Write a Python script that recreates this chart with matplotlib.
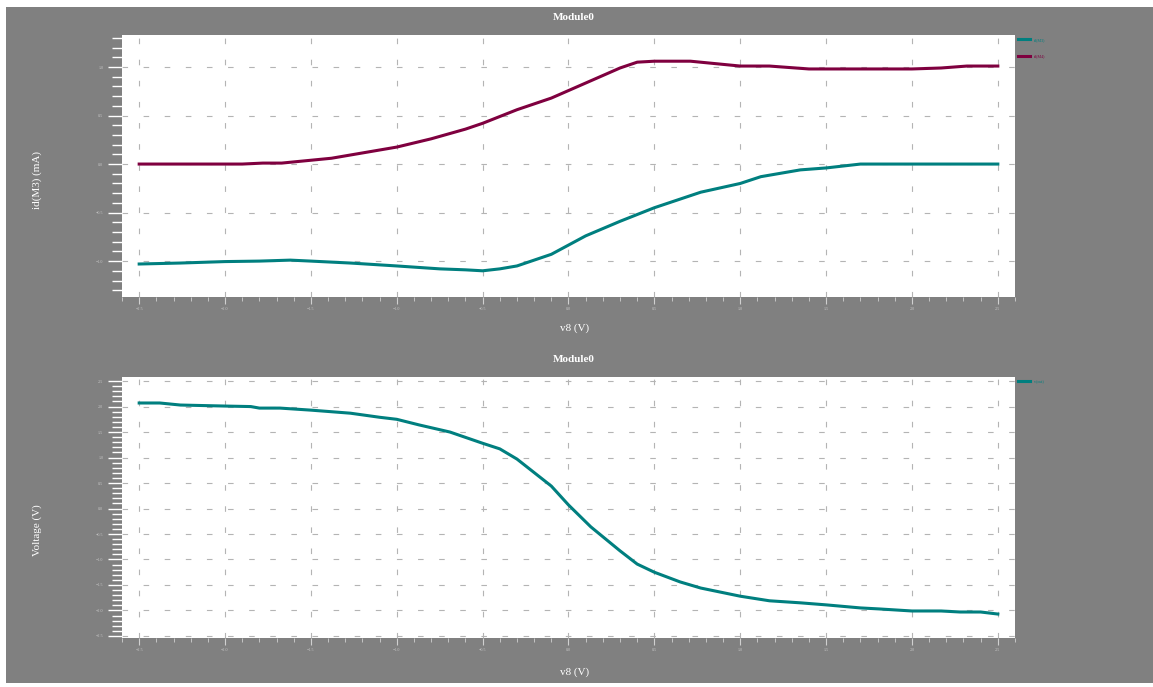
import matplotlib
matplotlib.use('Agg')
import matplotlib.pyplot as plt
import numpy as np

plt.rcParams['font.family'] = ['Liberation Serif', 'DejaVu Serif']

# sweep of v8 (V)
v8_top = [-2.5, -2.26, -2.0, -1.8, -1.62, -1.5, -1.27, -1.0, -0.75, -0.6, -0.5, -0.4, -0.3, -0.1, 0.1, 0.3, 0.5, 0.77, 1.0, 1.12, 1.35, 1.5, 1.7, 2.5]
id_m3 = [-1.03, -1.02, -1.005, -1.0, -0.99, -1.0, -1.02, -1.05, -1.08, -1.09, -1.10, -1.08, -1.05, -0.93, -0.74, -0.59, -0.45, -0.29, -0.20, -0.13, -0.06, -0.04, 0.0, 0.0]

v8_m4 = [-2.5, -1.9, -1.78, -1.67, -1.38, -1.0, -0.8, -0.6, -0.5, -0.3, -0.1, 0.1, 0.3, 0.4, 0.5, 0.71, 1.0, 1.17, 1.4, 2.0, 2.17, 2.32, 2.5]
id_m4 = [0.0, 0.0, 0.01, 0.01, 0.06, 0.175, 0.26, 0.36, 0.42, 0.56, 0.68, 0.835, 0.99, 1.05, 1.06, 1.06, 1.01, 1.01, 0.98, 0.98, 0.99, 1.01, 1.01]

v8_bot = [-2.5, -2.38, -2.26, -2.0, -1.85, -1.8, -1.68, -1.5, -1.27, -1.1, -1.0, -0.87, -0.69, -0.5, -0.4, -0.3, -0.1, 0.0, 0.13, 0.3, 0.4, 0.5, 0.65, 0.77, 1.0, 1.17, 1.35, 1.5, 1.7, 1.81, 2.0, 2.17, 2.28, 2.4, 2.5]
v_out = [2.07, 2.07, 2.03, 2.01, 2.0, 1.97, 1.97, 1.93, 1.87, 1.79, 1.75, 1.64, 1.5, 1.28, 1.17, 0.97, 0.44, 0.07, -0.36, -0.83, -1.09, -1.25, -1.44, -1.56, -1.72, -1.81, -1.85, -1.89, -1.95, -1.97, -2.01, -2.01, -2.03, -2.03, -2.07]

teal = '#007f7f'
purple = '#7f003f'
bg = '#808080'

W, H = 1153, 687
fig = plt.figure(figsize=(W/100, H/100), dpi=100, facecolor='white')
# gray panel behind both plots (thin white margin at left/top/bottom)
fig.patches.append(plt.Rectangle((6/W, 4/H), 1 - 6/W, 1 - 11/H, transform=fig.transFigure,
                                 facecolor=bg, edgecolor='none', zorder=-10))
ax1 = fig.add_axes([122/W, 1-297/H, 893/W, 262/H])
ax2 = fig.add_axes([122/W, 1-638/H, 893/W, 261/H])


def style(ax, ylabel, yticks, ylim, ytop, ymid, ybot):
    ax.set_facecolor('white')
    for s in ax.spines.values():
        s.set_visible(False)
    ax.set_xlim(-2.6, 2.6)
    ax.set_ylim(*ylim)
    ax.set_xticks(np.arange(-2.5, 2.51, 0.5))
    ax.set_xticks(np.arange(-2.6, 2.61, 0.1), minor=True)
    ax.set_yticks(yticks)
    ax.set_yticks(np.arange(np.ceil(ylim[0]*10)/10, ylim[1], 0.1), minor=True)
    ax.tick_params(axis='y', which='major', colors='white', length=10, width=1,
                   labelsize=3, labelcolor='#c8c8c8')
    ax.tick_params(axis='y', which='minor', colors='white', length=7, width=1)
    ax.tick_params(axis='x', which='major', colors='#d0d0d0', length=5, width=0.8,
                   labelsize=3, labelcolor='#c8c8c8', pad=2)
    ax.tick_params(axis='x', which='minor', colors='#d0d0d0', length=3, width=0.6)
    ax.grid(True, which='major', color='#b4b4b4', linestyle=(0, (5, 14)), linewidth=0.8)
    fig.text(574/W, 1-ytop/H, 'Module0', color='white', fontsize=8, fontweight='bold',
             ha='center', va='center')
    fig.text(575/W, 1-ybot/H, 'v8 (V)', color='white', fontsize=8, ha='center', va='center')
    fig.text(37/W, 1-ymid/H, ylabel, color='white', fontsize=8,
             rotation=90, ha='center', va='center')
    ax.legend(loc='upper left', bbox_to_anchor=(1.0, 1.0), frameon=False, fontsize=3,
              handlelength=3, labelcolor='linecolor', borderaxespad=0.3, labelspacing=3)


ax1.plot(v8_top, id_m3, color=teal, lw=2.2, label='id(M3)')
ax1.plot(v8_m4, id_m4, color=purple, lw=2.2, label='id(M4)')
style(ax1, 'id(M3) (mA)', np.arange(-1.0, 1.01, 0.5), (-1.37, 1.33), 17, 180, 328)

ax2.plot(v8_bot, v_out, color=teal, lw=2.2, label='v(out)')
style(ax2, 'Voltage (V)', np.arange(-2.5, 2.51, 0.5), (-2.54, 2.58), 359, 530, 672)

fig.savefig('out.png', dpi=100, facecolor='white')
